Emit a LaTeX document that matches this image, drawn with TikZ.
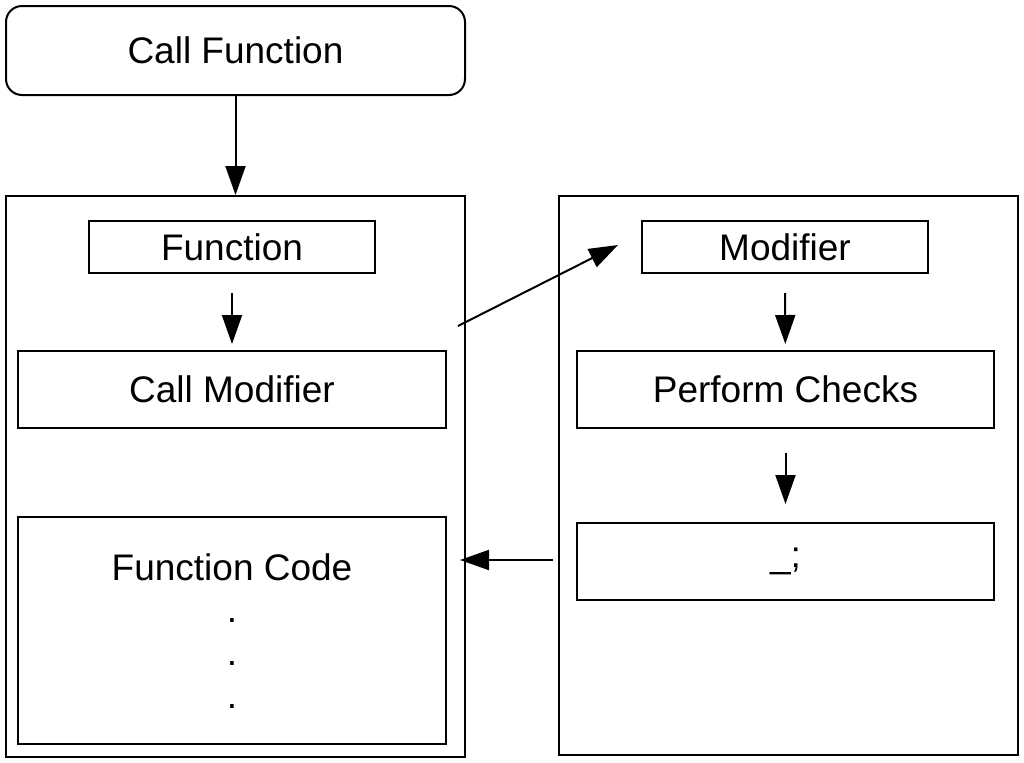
\documentclass[tikz,border=0pt]{standalone}
\usepackage{fontspec}
\setmainfont{Liberation Sans}
\usetikzlibrary{arrows.meta}

\begin{document}
\begin{tikzpicture}[x=0.5pt,y=-0.5pt,
    frame/.style={draw,line width=1pt,inner sep=0pt},
    box/.style={draw,line width=1pt,fill=white,inner sep=0pt,font=\fontsize{18.5}{22}\selectfont},
    txt/.style={inner sep=0pt,font=\fontsize{18.5}{22}\selectfont},
    arr/.style={line width=1pt,-{Triangle[length=14.5pt,width=10pt]}}]
  \useasboundingbox (0,0) rectangle (1024,762);
  % top call
  \node[box,rounded corners=8pt,minimum width=229.5pt,minimum height=44.5pt] (callfn) at (235.5,50.5) {Call Function};
  % the two frames
  \node[frame,minimum width=229.5pt,minimum height=280.5pt] (leftbox) at (235.5,476.5) {};
  \node[frame,minimum width=229.5pt,minimum height=279.5pt] (rightbox) at (788.5,475.5) {};
  % left side
  \node[box,minimum width=143pt,minimum height=26pt] (func) at (232,247) {Function};
  \node[box,minimum width=214pt,minimum height=38.5pt] (callmod) at (232,389.5) {Call Modifier};
  \node[box,minimum width=214pt,minimum height=113.5pt] (fcode) at (232,630.5) {};
  \node[txt,anchor=base] (fctext) at (232,580) {Function Code};
  \foreach \y/\n in {622/1,665/2,708/3}
    \node[txt,anchor=base] (dot\n) at (232,\y) {.};
  % right side
  \node[box,minimum width=143pt,minimum height=26pt] (mod) at (785,247) {Modifier};
  \node[box,minimum width=208.5pt,minimum height=38.5pt] (checks) at (785.5,389.5) {Perform Checks};
  \node[box,minimum width=208.5pt,minimum height=38.5pt] (blank) at (785.5,561.5) {\_;};
  % arrows
  \coordinate (cmout) at (458,326);
  \coordinate (modin) at (618,245);
  \coordinate (bkout) at (553,560);
  \coordinate (fcin) at (460,560);
  \draw[arr] (callfn.south) -- (leftbox.north);
  \draw[arr,shorten <=9.5pt,shorten >=3pt] (func) -- (callmod);
  \draw[arr,shorten <=9.5pt,shorten >=3pt] (mod) -- (checks);
  \draw[arr,shorten <=12pt,shorten >=9pt] (checks) -- (blank);
  \draw[arr] (cmout) -- (modin);
  \draw[arr] (bkout) -- (fcin);
\end{tikzpicture}
\end{document}
